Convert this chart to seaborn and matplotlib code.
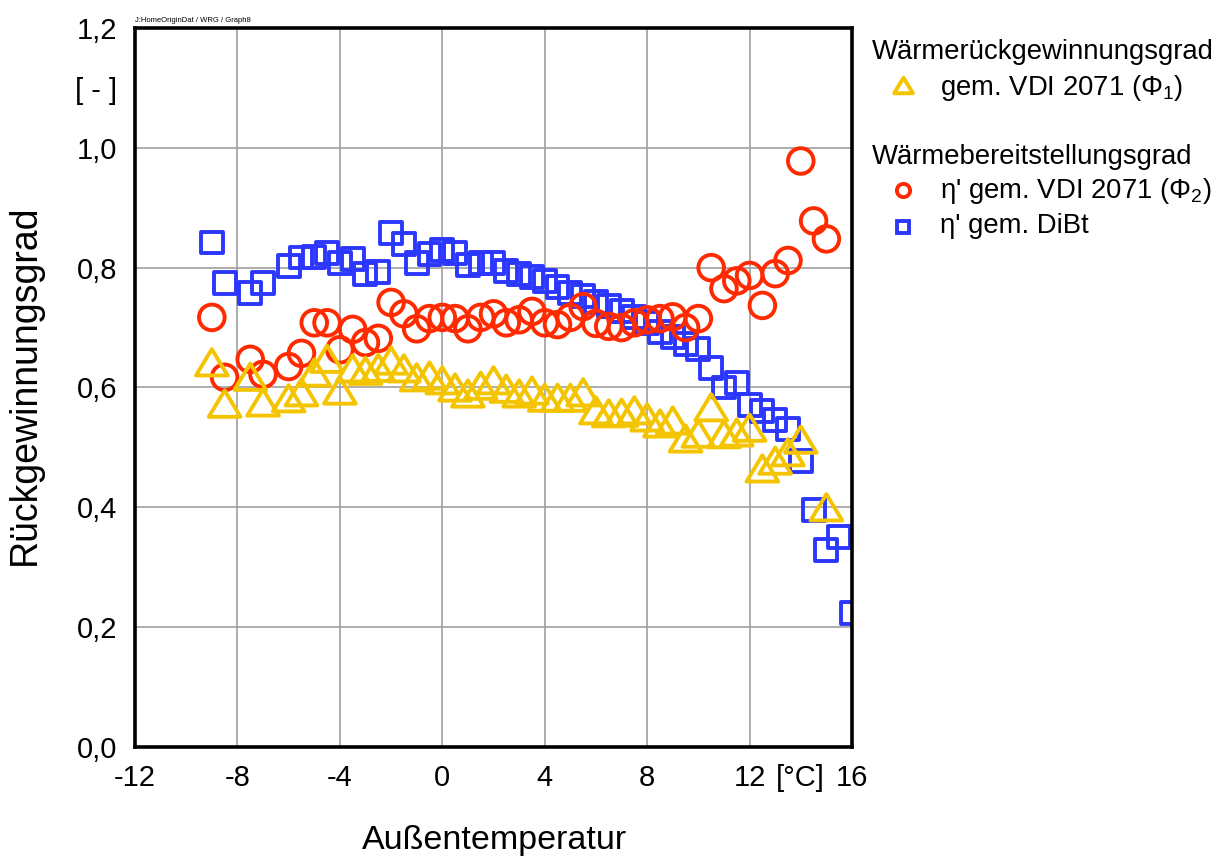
import matplotlib
matplotlib.use("Agg")
import matplotlib.pyplot as plt
import seaborn as sns
import pandas as pd
from matplotlib.lines import Line2D
from matplotlib.path import Path

# ---------------- data ----------------
temp_dibt = [-9, -8.5, -7.5, -7, -6, -5.5, -5, -4.5, -4, -3.5, -3, -2.5, -2, -1.5, -1, -0.5,
             0, 0.5, 1, 1.5, 2, 2.5, 3, 3.5, 4, 4.5, 5, 5.5, 6, 6.5, 7, 7.5, 8, 8.5, 9, 9.5,
             10, 10.5, 11, 11.5, 12, 12.5, 13, 13.5, 14, 14.5, 15, 15.5, 16]
eta_dibt = [0.842, 0.775, 0.757, 0.774, 0.803, 0.817, 0.818, 0.825, 0.807, 0.815, 0.790, 0.792,
            0.858, 0.840, 0.807, 0.823, 0.830, 0.825, 0.805, 0.807, 0.808, 0.795, 0.790, 0.784,
            0.777, 0.768, 0.757, 0.752, 0.743, 0.736, 0.727, 0.717, 0.708, 0.693, 0.685, 0.672,
            0.665, 0.633, 0.600, 0.607, 0.570, 0.560, 0.545, 0.530, 0.478, 0.396, 0.328, 0.351,
            0.223]

temp_phi2 = [-9, -8.5, -7.5, -7, -6, -5.5, -5, -4.5, -4, -3.5, -3, -2.5, -2, -1.5, -1, -0.5,
             0, 0.5, 1, 1.5, 2, 2.5, 3, 3.5, 4, 4.5, 5, 5.5, 6, 6.5, 7, 7.5, 8, 8.5, 9, 9.5,
             10, 10.5, 11, 11.5, 12, 12.5, 13, 13.5, 14, 14.5, 15]
eta_phi2 = [0.717, 0.617, 0.647, 0.622, 0.635, 0.657, 0.708, 0.708, 0.663, 0.697, 0.675, 0.682,
            0.742, 0.723, 0.698, 0.715, 0.717, 0.715, 0.698, 0.717, 0.723, 0.708, 0.713, 0.727,
            0.708, 0.705, 0.717, 0.735, 0.707, 0.702, 0.700, 0.708, 0.713, 0.715, 0.718, 0.700,
            0.715, 0.800, 0.765, 0.778, 0.787, 0.737, 0.790, 0.812, 0.978, 0.878, 0.848]

temp_phi1 = [-9, -8.5, -7.5, -7, -6, -5.5, -5, -4.5, -4, -3.5, -3, -2.5, -2, -1.5, -1, -0.5,
             0, 0.5, 1, 1.5, 2, 2.5, 3, 3.5, 4, 4.5, 5, 5.5, 6, 6.5, 7, 7.5, 8, 8.5, 9, 9.5,
             10, 10.5, 11, 11.5, 12, 12.5, 13, 13.5, 14, 15]
phi1 = [0.642, 0.573, 0.618, 0.575, 0.582, 0.592, 0.625, 0.648, 0.595, 0.632, 0.628, 0.633,
        0.645, 0.632, 0.617, 0.620, 0.612, 0.600, 0.590, 0.603, 0.612, 0.598, 0.590, 0.595,
        0.583, 0.583, 0.583, 0.592, 0.562, 0.557, 0.558, 0.562, 0.550, 0.540, 0.545, 0.515,
        0.523, 0.567, 0.522, 0.525, 0.533, 0.465, 0.478, 0.492, 0.513, 0.400]

x_ticks = [-12, -8, -4, 0, 4, 8, 12, 16]
x_ticklabels = ["-12", "-8", "-4", "0", "4", "8", "12", "16"]
y_ticks = [0.0, 0.2, 0.4, 0.6, 0.8, 1.0, 1.2]
y_ticklabels = ["0,0", "0,2", "0,4", "0,6", "0,8", "1,0", "1,2"]

BLUE = "#2b36ff"
RED = "#ff2a00"
YELLOW = "#f5c400"

# ---------------- style ----------------
sns.set_theme(style="white")
plt.rcParams['font.family'] = ['Liberation Sans', 'DejaVu Sans']
plt.rcParams['text.color'] = 'black'
plt.rcParams['mathtext.fontset'] = 'custom'
plt.rcParams['mathtext.rm'] = 'Liberation Sans'
plt.rcParams['mathtext.it'] = 'Liberation Sans:italic'
plt.rcParams['mathtext.bf'] = 'Liberation Sans:bold'

W, H = 1224, 856
fig = plt.figure(figsize=(W / 100, H / 100), dpi=100)
fig.patch.set_facecolor("white")
ax = fig.add_axes([135 / W, 1 - 747 / H, (852 - 135) / W, (747 - 28) / H])

tri = Path([(0, 0.83), (-1, -0.83), (1, -0.83), (0, 0.83)],
           [Path.MOVETO, Path.LINETO, Path.LINETO, Path.CLOSEPOLY])

df_b = pd.DataFrame({"T": temp_dibt, "v": eta_dibt})
df_r = pd.DataFrame({"T": temp_phi2, "v": eta_phi2})
df_y = pd.DataFrame({"T": temp_phi1, "v": phi1})

for df, mk, s, col in [(df_b, "s", 250, BLUE), (df_r, "o", 340, RED), (df_y, tri, 520, YELLOW)]:
    sns.scatterplot(data=df, x="T", y="v", marker=mk, s=s, color=col, ax=ax, legend=False)
    coll = ax.collections[-1]
    coll.set_facecolor("none")
    coll.set_edgecolor(col)
    coll.set_linewidth(2.8)

ax.set_xlim(-12, 16)
ax.set_ylim(0, 1.2)
ax.set_xticks(x_ticks, x_ticklabels)
ax.set_yticks(y_ticks, y_ticklabels)
ax.set_xticks([14], ["[°C]"], minor=True)
ax.set_yticks([1.1], ["[ - ]"], minor=True)
ax.tick_params(which="both", length=0, labelsize=21, colors="black")
ax.tick_params(axis="x", which="both", pad=12)
ax.tick_params(axis="y", which="both", pad=13)
ax.grid(True, which="major", color="#a0a0a0", linewidth=1.2)
ax.grid(False, which="minor")
ax.set_axisbelow(True)
for sp in ax.spines.values():
    sp.set_visible(True)
    sp.set_color("black")
    sp.set_linewidth(2.6)
ax.set_xlabel("")
ax.set_ylabel("")

# axis titles
fig.text(494 / W, 1 - 840 / H, "Außentemperatur", ha="center", va="center", fontsize=24.5,
         color="black")
fig.text(25 / W, 1 - 385 / H, "Rückgewinnungsgrad", rotation=90, ha="center", va="center",
         fontsize=27, color="black")
fig.text(135 / W, 1 - 20 / H, "J:HomeOriginDat / WRG / Graph8", ha="left", va="center",
         fontsize=5.5, color="black")

# legend
def fy(y):
    return 1 - y / H

fs_leg = 19.8
fig.text(872 / W, fy(52), "Wärmerückgewinnungsgrad", ha="left", va="center", fontsize=fs_leg)
fig.text(940 / W, fy(88), "gem. VDI 2071 (Φ$_1$)", ha="left", va="center", fontsize=fs_leg)
fig.text(872 / W, fy(157), "Wärmebereitstellungsgrad", ha="left", va="center", fontsize=fs_leg)
fig.text(940 / W, fy(191), "η' gem. VDI 2071 (Φ$_2$)", ha="left", va="center", fontsize=fs_leg)
fig.text(940 / W, fy(226), "η' gem. DiBt", ha="left", va="center", fontsize=fs_leg)

for (px, py, mk, ms, col) in [(903, 85, tri, 13.5, YELLOW), (903, 190, "o", 9.5, RED),
                              (903, 227, "s", 8.5, BLUE)]:
    fig.add_artist(Line2D([px / W], [fy(py)], transform=fig.transFigure, marker=mk,
                          markersize=ms, markerfacecolor="none", markeredgecolor=col,
                          markeredgewidth=2.8, linestyle="none"))

fig.savefig("out.png", dpi=100)
